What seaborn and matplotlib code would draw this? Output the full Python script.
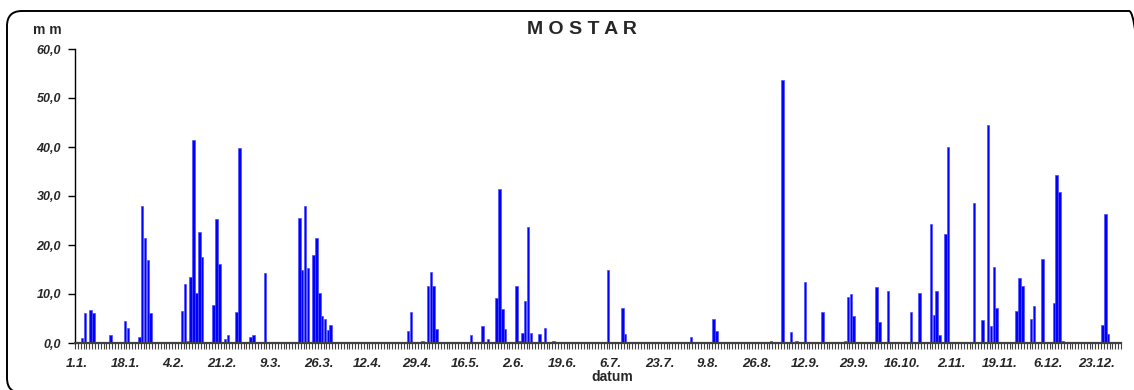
import numpy as np
import pandas as pd
import matplotlib
matplotlib.use("Agg")
import matplotlib.pyplot as plt
import seaborn as sns
from matplotlib.patches import FancyBboxPatch
from matplotlib.ticker import FixedLocator, FuncFormatter

# ---- data (day index 0 = 1.1., leap year, 366 days) ----
rain_day = [2, 3, 4, 5, 6, 11, 12, 17, 18, 22, 23, 24, 25, 26, 37, 38, 39, 40, 41, 42, 43, 44,
            48, 49, 50, 52, 53, 56, 57, 61, 62, 66, 78, 79, 80, 81, 83, 84, 85, 86, 87, 88, 89,
            114, 116, 117, 121, 123, 124, 125, 126, 138, 142, 144, 147, 148, 149, 150, 154, 155,
            156, 157, 158, 159, 162, 164, 167, 186, 191, 192, 215, 223, 224, 243, 247, 250, 252,
            255, 261, 269, 270, 271, 272, 278, 280, 281, 284, 286, 292, 295, 299, 300, 301, 302,
            304, 305, 306, 314, 315, 317, 319, 320, 321, 322, 328, 329, 330, 331, 334, 335, 338,
            342, 343, 344, 345, 359, 360, 361]
rain_mm = [1.0, 6.1, 0.3, 6.8, 6.2, 0.3, 1.6, 4.5, 3.1, 1.3, 28.0, 21.4, 16.9, 6.1, 6.6, 12.1, 0.5,
           13.5, 41.5, 10.3, 22.7, 17.5, 7.7, 25.4, 16.1, 0.8, 1.6, 6.3, 39.8, 1.3, 1.6, 14.2,
           25.6, 15.0, 28.0, 15.4, 18.0, 21.4, 10.3, 5.6, 4.8, 2.6, 3.7, 0.3, 2.4, 6.3, 0.5, 11.6,
           14.5, 11.6, 2.9, 1.6, 3.4, 0.8, 9.2, 31.4, 6.9, 2.9, 11.6, 0.5, 2.1, 8.6, 23.7, 2.1,
           1.8, 3.1, 0.5, 15.0, 7.1, 1.8, 1.3, 4.8, 2.4, 0.5, 53.6, 2.2, 0.5, 12.4, 6.3, 0.5, 9.3,
           10.0, 5.6, 0.3, 11.4, 4.3, 10.6, 0.3, 6.3, 10.3, 24.3, 5.8, 10.6, 1.6, 22.2, 39.9, 0.3,
           28.5, 0.3, 4.6, 44.4, 3.5, 15.6, 7.1, 0.3, 6.6, 13.2, 11.6, 5.0, 7.6, 17.1, 8.2, 34.3,
           30.9, 0.5, 3.7, 26.4, 1.8]
n_days = 366
tick_days = [0, 17, 34, 51, 68, 85, 102, 119, 136, 153, 170, 187, 204, 221, 238, 255, 272, 289,
             306, 323, 340, 357]
tick_labels = ["1.1.", "18.1.", "4.2.", "21.2.", "9.3.", "26.3.", "12.4.", "29.4.", "16.5.",
               "2.6.", "19.6.", "6.7.", "23.7.", "9.8.", "26.8.", "12.9.", "29.9.", "16.10.",
               "2.11.", "19.11.", "6.12.", "23.12."]
y_ticks = [0, 10, 20, 30, 40, 50, 60]

full = np.zeros(n_days)
full[rain_day] = rain_mm
df = pd.DataFrame({"day": np.arange(n_days), "mm": full})

sns.set_style("white")
plt.rcParams["font.family"] = ["Liberation Sans", "DejaVu Sans"]

W, H = 1134, 390
fig = plt.figure(figsize=(W / 100, H / 100), dpi=100)
ax = fig.add_axes([75 / W, 47 / H, (1121 - 75) / W, (343 - 49) / H])

sns.barplot(data=df, x="day", y="mm", color="#0000ff", saturation=1, width=0.9,
            edgecolor="#4d4dff", linewidth=0.5, ax=ax, errorbar=None)

ax.set_xlim(-0.5, n_days - 0.5)
ax.set_ylim(0, 60)

# spines
for s in ["top", "right"]:
    ax.spines[s].set_visible(False)
ax.spines["left"].set_color("black")
ax.spines["left"].set_linewidth(1.0)
ax.spines["bottom"].set_color("#404040")
ax.spines["bottom"].set_linewidth(1.6)

# x ticks
ax.xaxis.set_major_locator(FixedLocator(tick_days))
ax.set_xticklabels(tick_labels)
ax.xaxis.set_minor_locator(FixedLocator(np.arange(n_days + 1) - 0.5))
ax.tick_params(axis="x", which="major", length=0, pad=11, labelsize=9.5)
ax.tick_params(axis="x", which="minor", length=4, width=0.8, color="#404040", direction="out",
               bottom=True)
for t in ax.get_xticklabels():
    t.set_fontweight("bold")
    t.set_fontstyle("italic")

# y ticks
ax.yaxis.set_major_locator(FixedLocator(y_ticks))
ax.yaxis.set_major_formatter(FuncFormatter(lambda v, p: f"{v:.1f}".replace(".", ",")))
ax.tick_params(axis="y", which="major", length=5, width=1.0, color="black", direction="out",
               left=True, pad=5, labelsize=9)
for t in ax.get_yticklabels():
    t.set_fontweight("bold")
    t.set_fontstyle("italic")

ax.set_xlabel("")
ax.set_ylabel("")
ax.grid(False)

fig.text(582 / W, 1 - 30 / H, "M O S T A R", ha="center", va="center", fontsize=14,
         fontweight="bold")
fig.text(47 / W, 1 - 30 / H, "m m", ha="center", va="center", fontsize=10, fontweight="bold")
fig.text(612 / W, 1 - 377 / H, "datum", ha="center", va="center", fontsize=10,
         fontweight="bold")

border = FancyBboxPatch((7, -3), 1137, 382, boxstyle="round,pad=0,rounding_size=15",
                        transform=None, fill=False, lw=1.4, ec="black")
fig.patches.append(border)

fig.savefig("out.png", dpi=100)
